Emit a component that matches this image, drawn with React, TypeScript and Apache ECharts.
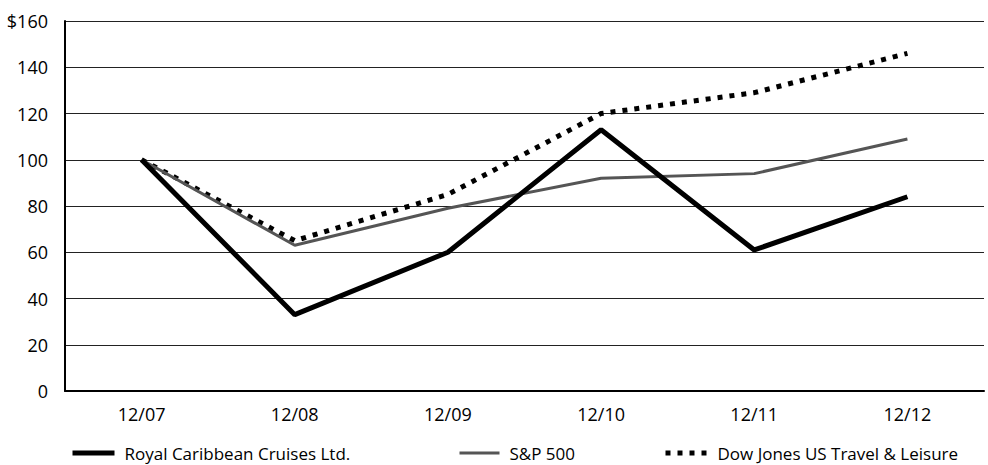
import React, { useEffect, useRef } from "react";
import * as echarts from "echarts";

const categories = ["12/07", "12/08", "12/09", "12/10", "12/11", "12/12"];
const rclValues = [100, 33, 60, 113, 61, 84];
const spValues = [100, 63, 79, 92, 94, 109];
const djValues = [100, 65, 85, 120, 129, 146];
const yTicks = { min: 0, max: 160, interval: 20 };
const names = {
  rcl: "Royal Caribbean Cruises Ltd.",
  sp: "S&P 500",
  dj: "Dow Jones US Travel & Leisure",
};

const FONT = "Open Sans";

export default function App() {
  const ref = useRef<HTMLDivElement>(null);
  useEffect(() => {
    if (!ref.current) return;
    const chart = echarts.init(ref.current, undefined, { renderer: "svg" });
    const legendText = {
      fontFamily: FONT,
      fontSize: 17,
      lineHeight: 18,
      color: "#000",
      padding: [0, 0, 0, 5],
    };
    const legendBase = {
      top: 444,
      padding: 0,
      itemHeight: 14,
      textStyle: legendText,
      itemStyle: { opacity: 0 },
    };
    chart.setOption({
      animation: false,
      backgroundColor: "#fff",
      grid: { left: 65, right: 4, top: 21, bottom: 74, containLabel: false },
      legend: [
        {
          ...legendBase,
          data: [names.rcl],
          left: 70,
          itemWidth: 42,
          lineStyle: { width: 5, color: "#000" },
        },
        {
          ...legendBase,
          data: [names.sp],
          left: 458,
          itemWidth: 40,
          lineStyle: { width: 3, color: "#555" },
        },
        {
          ...legendBase,
          data: [names.dj],
          left: 663,
          itemWidth: 42,
          lineStyle: { width: 5, color: "#000", type: [5, 7] },
        },
      ],
      xAxis: {
        type: "category",
        data: categories,
        boundaryGap: true,
        axisLine: { show: true, lineStyle: { color: "#000", width: 2 } },
        axisTick: { show: false },
        axisLabel: { margin: 14, fontFamily: FONT, fontSize: 18, color: "#000" },
        splitLine: { show: false },
      },
      yAxis: {
        type: "value",
        min: yTicks.min,
        max: yTicks.max,
        interval: yTicks.interval,
        axisLine: { show: true, lineStyle: { color: "#000", width: 2 } },
        axisTick: { show: false },
        axisLabel: {
          margin: 17,
          fontFamily: FONT,
          fontSize: 18,
          color: "#000",
          formatter: (v: number) => (v === yTicks.max ? "$" + v : String(v)),
        },
        splitLine: { show: true, lineStyle: { color: "#222", width: 1 } },
      },
      series: [
        {
          name: names.dj,
          type: "line",
          data: djValues,
          symbol: "none",
          lineStyle: { color: "#000", width: 5, type: [5, 7], cap: "butt" },
          itemStyle: { color: "#000" },
        },
        {
          name: names.sp,
          type: "line",
          data: spValues,
          symbol: "none",
          lineStyle: { color: "#555", width: 3 },
          itemStyle: { color: "#555" },
        },
        {
          name: names.rcl,
          type: "line",
          data: rclValues,
          symbol: "none",
          lineStyle: { color: "#000", width: 5 },
          itemStyle: { color: "#000" },
        },
      ],
    });
    return () => chart.dispose();
  }, []);
  return (
    <div
      ref={ref}
      style={{ position: "absolute", left: 0, top: 0, width: 988, height: 465 }}
    />
  );
}
